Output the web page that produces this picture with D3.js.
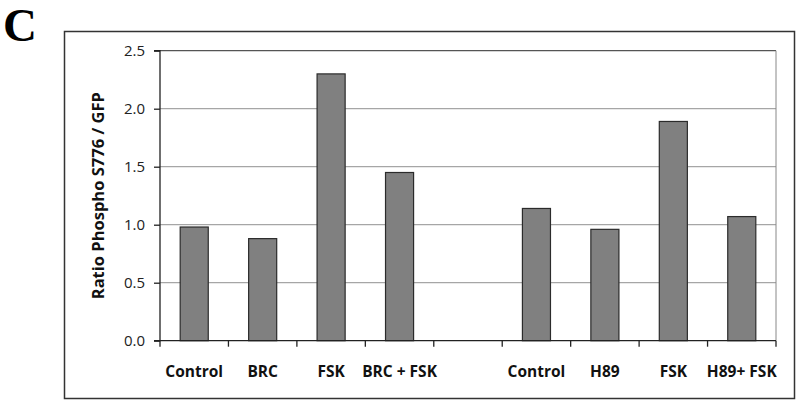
<!DOCTYPE html>
<html><head><meta charset="utf-8">
<script src="https://cdn.jsdelivr.net/npm/d3@7"></script>
<style>body{margin:0;background:#fff}svg{display:block}</style>
</head><body>
<svg id="c" width="800" height="405"></svg>
<script>
const categories = ["Control","BRC","FSK","BRC + FSK","","Control","H89","FSK","H89+ FSK"];
const values = [0.98,0.88,2.30,1.45,null,1.14,0.96,1.89,1.07];
const yTicks = [0,0.5,1.0,1.5,2.0,2.5];
const yTitle = "Ratio Phospho S776 / GFP";
const panel = "C";

const svg = d3.select("#c");
const L=160,R=776,T=50.7,B=340.7;
const x = d3.scaleBand().domain(d3.range(categories.length)).range([L,R]).paddingInner(0).paddingOuter(0);
const y = d3.scaleLinear().domain([0,2.5]).range([B,T]);

// outer box
svg.append("rect").attr("x",64.5).attr("y",31.5).attr("width",730).attr("height",367)
  .attr("fill","none").attr("stroke","#333").attr("stroke-width",1.5);
svg.append("text").attr("x",3).attr("y",41).text(panel)
  .attr("font-family","Liberation Serif").attr("font-weight","bold").attr("font-size",47).attr("fill","#000");

// gridlines
svg.append("g").selectAll("line").data(yTicks.filter(d=>d>0)).join("line")
  .attr("x1",L).attr("x2",R).attr("y1",d=>y(d)).attr("y2",d=>y(d))
  .attr("stroke",d=>d===2.5?"#555":"#a6a6a6").attr("stroke-width",1.3);
svg.append("line").attr("x1",R).attr("x2",R).attr("y1",T).attr("y2",B).attr("stroke","#888").attr("stroke-width",1);

// bars
svg.append("g").selectAll("rect").data(values.map((v,i)=>({v,i})).filter(d=>d.v!==null)).join("rect")
  .attr("x",d=>x(d.i)+x.bandwidth()*0.295).attr("width",x.bandwidth()*0.41)
  .attr("y",d=>y(d.v)).attr("height",d=>B-y(d.v))
  .attr("fill","#808080").attr("stroke","#2b2b2b").attr("stroke-width",1.2);

// y axis
const ya = svg.append("g").attr("transform",`translate(${L},0)`)
  .call(d3.axisLeft(y).tickValues(yTicks).tickFormat(d3.format(".1f")).tickSize(6).tickPadding(9));
ya.select(".domain").attr("stroke","#222").attr("stroke-width",1.3).attr("d",`M-6,${T}H0V${B}H-6`);
ya.selectAll(".tick line").attr("stroke","#222").attr("stroke-width",1.3);
ya.selectAll("text").attr("font-family","Open Sans").attr("font-size",15).attr("fill","#222");

// x axis
const xa = svg.append("g").attr("transform",`translate(0,${B})`);
xa.append("line").attr("x1",L).attr("x2",R).attr("stroke","#222").attr("stroke-width",1.3);
xa.selectAll(".tk").data(d3.range(categories.length+1)).join("line")
  .attr("x1",i=>L+i*x.step()).attr("x2",i=>L+i*x.step()).attr("y1",0).attr("y2",6)
  .attr("stroke","#222").attr("stroke-width",1.3);
xa.selectAll("text").data(categories).join("text")
  .attr("x",(d,i)=>x(i)+x.bandwidth()/2).attr("y",36).attr("text-anchor","middle")
  .attr("font-family","Open Sans").attr("font-weight","bold").attr("font-size",15.5).attr("fill","#111")
  .text(d=>d);

svg.append("text").attr("transform",`translate(104,${(T+B)/2}) rotate(-90)`).attr("text-anchor","middle")
  .attr("font-family","Open Sans").attr("font-weight","bold").attr("font-size",16.5).attr("fill","#111")
  .text(yTitle);
</script>
</body></html>
